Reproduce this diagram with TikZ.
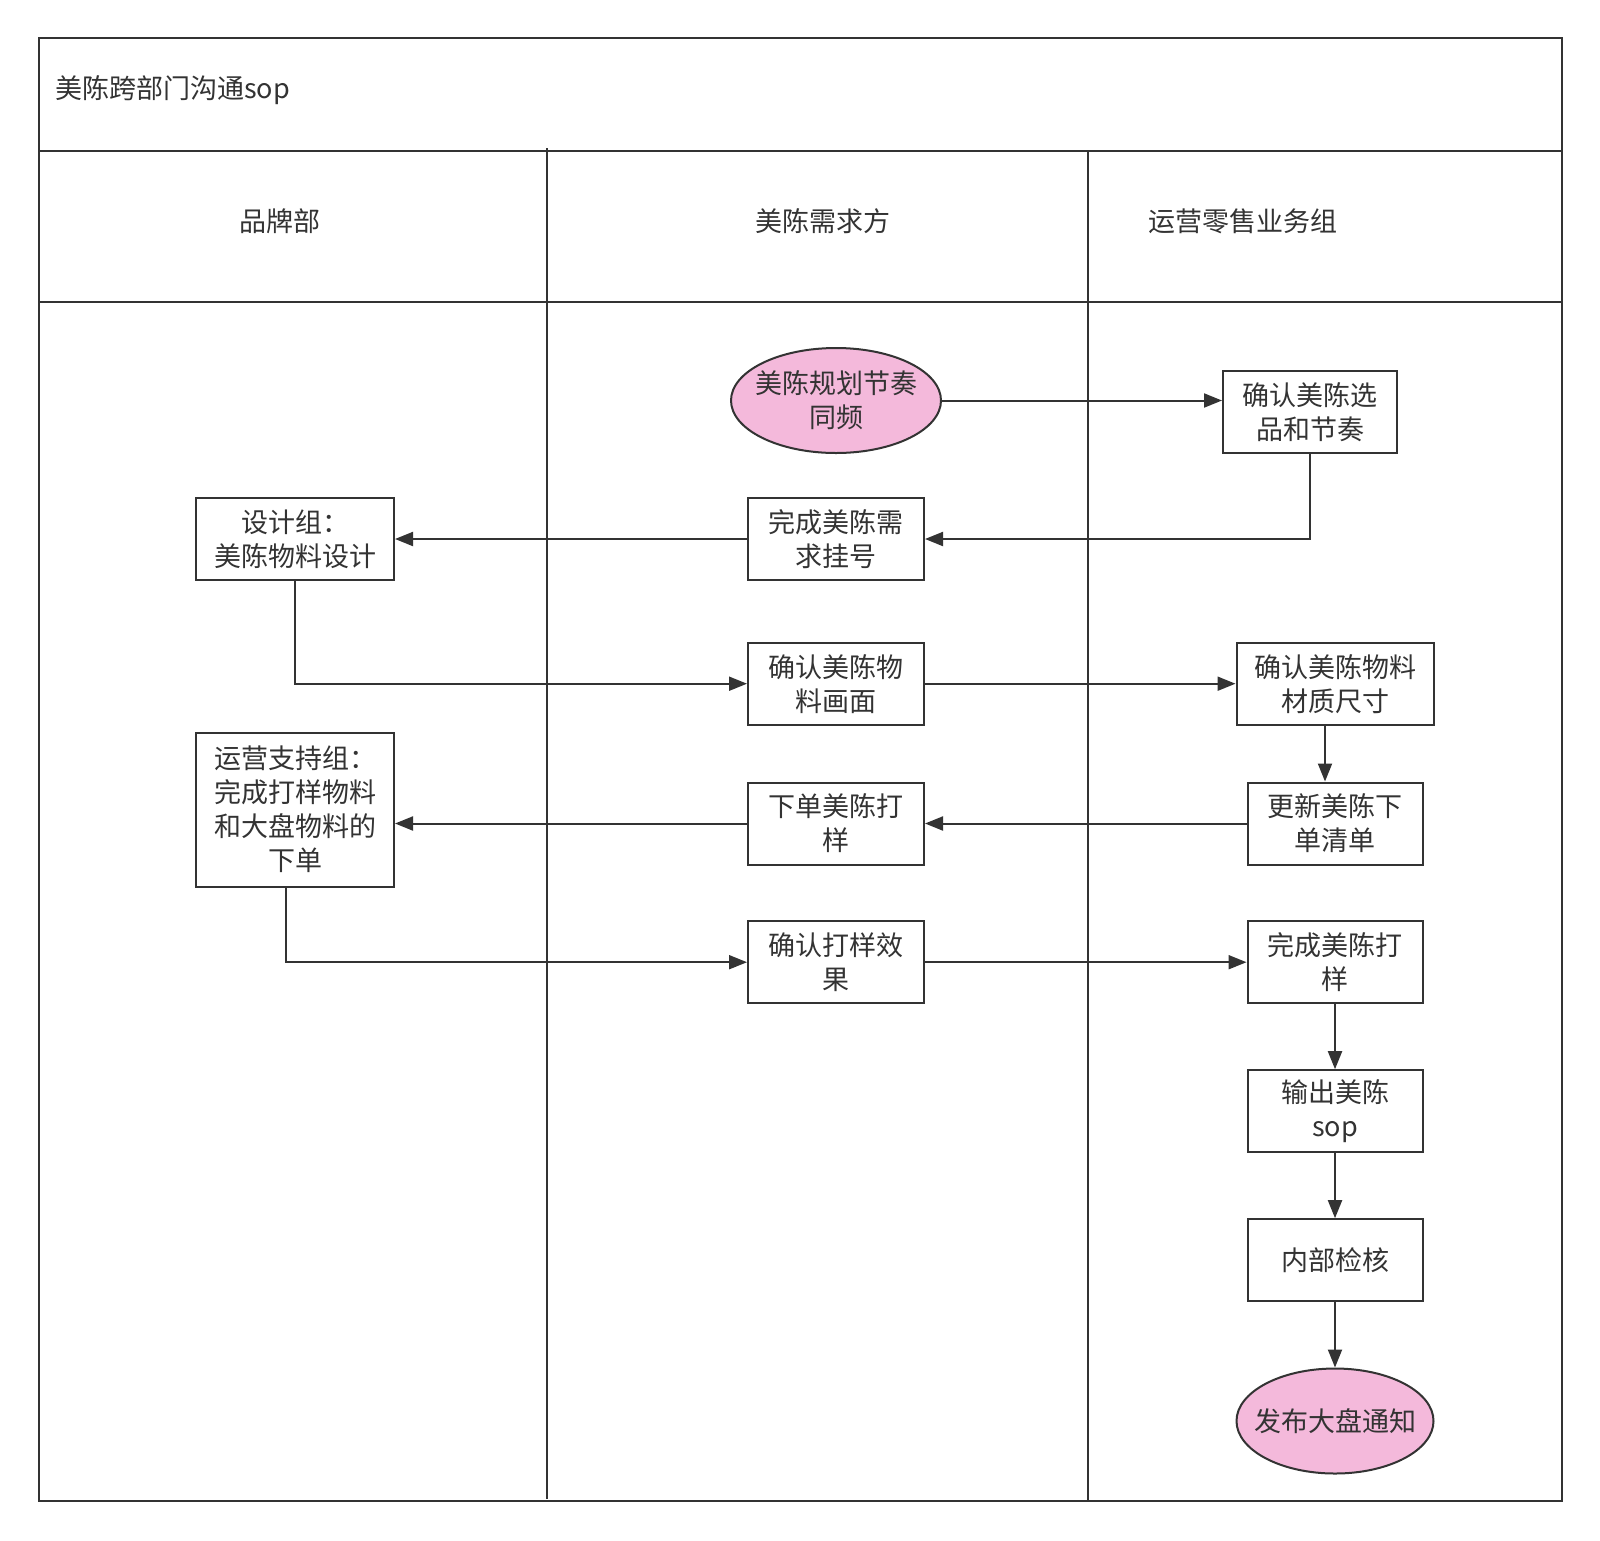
\documentclass[tikz,border=0pt]{standalone}
\usepackage{fontspec}
\newfontfamily\cjk{Noto Sans CJK SC}
\usetikzlibrary{shapes.geometric,arrows.meta}
\definecolor{lc}{HTML}{333333}
\definecolor{tc}{HTML}{333333}
\definecolor{pinkc}{HTML}{F4B9DB}
\begin{document}
\begin{tikzpicture}[x=1pt,y=-1pt,
  txt/.style={font=\cjk\fontsize{27pt}{34pt}\selectfont, text=tc, inner sep=0pt},
  box/.style={txt, draw=lc, line width=2pt, fill=white, minimum width=176pt, minimum height=82pt, align=center},
  oval/.style={ellipse, draw=lc, line width=2pt, fill=pinkc, inner sep=0pt, minimum width=210pt, minimum height=105pt},
  frame/.style={draw=lc, line width=2.5pt},
  arr/.style={draw=lc, line width=2pt, -{Triangle[length=18pt,width=14pt]}}]
\useasboundingbox (0,0) rectangle (1600,1540);
% frame and lanes
\draw[frame] (39,38) rectangle (1562,1501);
\draw[frame] (39,151) -- (1562,151);
\draw[frame] (39,302) -- (1562,302);
\draw[frame] (547,148) -- (547,1499);
\draw[frame] (1088,151) -- (1088,1501);
% titles
\node[txt, anchor=west] (title) at (55,90) {美陈跨部门沟通sop};
\node[txt] (h1) at (280,221) {品牌部};
\node[txt] (h2) at (823,221) {美陈需求方};
\node[txt] (h3) at (1243,221) {运营零售业务组};
% nodes
\node[oval, label={[txt,align=center]center:{美陈规划节奏\\同频}}] (start) at (836,400.5) {};
\node[box, minimum width=174pt] (xp) at (1310,412) {确认美陈选\\品和节奏};
\node[box] (gh) at (836,539) {完成美陈需\\求挂号};
\node[box, minimum width=198pt] (sj) at (295,539) {设计组：\\美陈物料设计};
\node[box] (hm) at (836,683.7) {确认美陈物\\料画面};
\node[box, minimum width=197pt] (cz) at (1335,683.7) {确认美陈物料\\材质尺寸};
\node[box, minimum width=198pt, minimum height=154pt] (ys) at (295,809.7) {运营支持组：\\完成打样物料\\和大盘物料的\\下单};
\node[box] (xd) at (836,823.5) {下单美陈打\\样};
\node[box, minimum width=175pt] (gx) at (1335,823.5) {更新美陈下\\单清单};
\node[box] (qd) at (836,962.2) {确认打样效\\果};
\node[box, minimum width=175pt] (wc) at (1335,962.2) {完成美陈打\\样};
\node[box, minimum width=175pt] (sc) at (1335,1111.2) {输出美陈\\sop};
\node[box, minimum width=175pt] (jh) at (1335,1260.2) {内部检核};
\node[oval, minimum width=197pt, label={[txt]center:发布大盘通知}] (end) at (1335,1421) {};
% connectors
\draw[arr] (start.east) -- (start.east -| xp.west);
\draw[arr] (xp.south) |- (gh.east);
\draw[arr] (gh.west) -- (sj.east);
\draw[arr] (sj.south) |- (hm.west);
\draw[arr] (hm.east) -- (cz.west);
\draw[arr] ([xshift=-10pt]cz.south) -- ([xshift=-10pt]cz.south |- gx.north);
\draw[arr] (gx.west) -- (xd.east);
\draw[arr] (xd.west) -- (xd.west -| ys.east);
\draw[arr] ([xshift=-9pt]ys.south) |- (qd.west);
\draw[arr] (qd.east) -- (wc.west);
\draw[arr] (wc.south) -- (sc.north);
\draw[arr] (sc.south) -- (jh.north);
\draw[arr] (jh.south) -- (end.north);
\end{tikzpicture}
\end{document}
